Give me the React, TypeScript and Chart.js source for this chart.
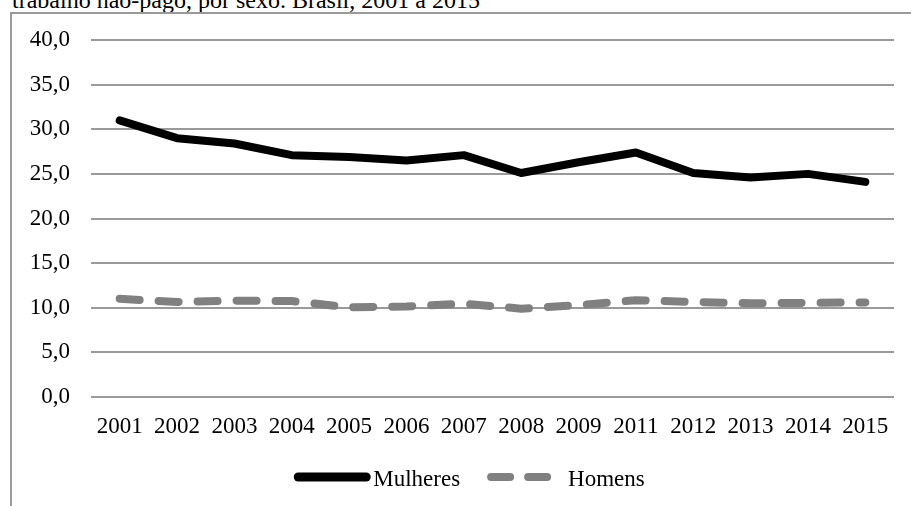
import React, { useEffect, useRef } from "react";
import { Chart, registerables } from "chart.js";

Chart.register(...registerables);

const titleText = "trabalho não-pago, por sexo. Brasil, 2001 a 2015";
const categories = ["2001", "2002", "2003", "2004", "2005", "2006", "2007", "2008", "2009", "2011", "2012", "2013", "2014", "2015"];
const mulheres = [31.0, 29.0, 28.4, 27.1, 26.9, 26.5, 27.1, 25.1, 26.3, 27.4, 25.1, 24.6, 25.0, 24.1];
const homens = [11.0, 10.65, 10.8, 10.75, 10.05, 10.15, 10.45, 9.9, 10.3, 10.85, 10.65, 10.5, 10.55, 10.6];
const seriesNames = ["Mulheres", "Homens"];
const yMin = 0;
const yMax = 40;
const yStep = 5;

const FONT = '"Times New Roman", "Liberation Serif", serif';

const legendPlugin = {
  id: "customLegend",
  afterDraw(chart: any) {
    const ctx = chart.ctx as CanvasRenderingContext2D;
    const datasets = chart.data.datasets;
    const sampleW = [76, 66];
    const textGap = [3, 15];
    const itemGap = 27;
    ctx.save();
    ctx.font = `23px ${FONT}`;
    const widths = datasets.map((d: any) => ctx.measureText(d.label).width);
    let total = 0;
    datasets.forEach((_: any, i: number) => {
      total += sampleW[i] + textGap[i] + widths[i];
      if (i < datasets.length - 1) total += itemGap;
    });
    let x = (chart.width - total) / 2 + 14;
    const y = chart.height - 29;
    datasets.forEach((d: any, i: number) => {
      ctx.save();
      ctx.strokeStyle = d.borderColor;
      ctx.lineWidth = 9;
      ctx.lineCap = "round";
      if (d.borderDash && d.borderDash.length) {
        ctx.setLineDash([19, 18]);
        ctx.lineWidth = 8;
      }
      ctx.beginPath();
      ctx.moveTo(x + 4, y);
      ctx.lineTo(x + sampleW[i] - 4, y);
      ctx.stroke();
      ctx.restore();
      x += sampleW[i] + textGap[i];
      ctx.fillStyle = "#000";
      ctx.textBaseline = "alphabetic";
      ctx.textAlign = "left";
      ctx.fillText(d.label, x, y + 8.5);
      x += widths[i] + itemGap;
    });
    ctx.restore();
  },
};

export default function App() {
  const canvasRef = useRef<HTMLCanvasElement | null>(null);

  useEffect(() => {
    const canvas = canvasRef.current;
    if (!canvas) return;
    const chart = new Chart(canvas, {
      type: "line",
      data: {
        labels: categories,
        datasets: [
          {
            label: seriesNames[0],
            data: mulheres,
            borderColor: "#000000",
            backgroundColor: "#000000",
            borderWidth: 8,
            borderCapStyle: "round",
            borderJoinStyle: "round",
            pointRadius: 0,
            tension: 0,
            fill: false,
          },
          {
            label: seriesNames[1],
            data: homens,
            borderColor: "#808080",
            backgroundColor: "#808080",
            borderWidth: 8,
            borderDash: [20, 19],
            borderCapStyle: "round",
            borderJoinStyle: "round",
            pointRadius: 0,
            tension: 0,
            fill: false,
          },
        ],
      },
      options: {
        responsive: false,
        animation: false,
        devicePixelRatio: 1,
        layout: { padding: { top: 40, right: 17, bottom: 0, left: 0 } },
        plugins: {
          legend: { display: false },
          tooltip: { enabled: false },
          title: { display: false },
        },
        scales: {
          x: {
            type: "category",
            offset: true,
            grid: { display: false, drawTicks: false },
            border: { display: false },
            ticks: {
              color: "#000",
              font: { family: FONT, size: 23 },
              padding: 16,
              maxRotation: 0,
              autoSkip: false,
            },
            afterFit(scale: any) {
              scale.height = 109;
            },
          },
          y: {
            min: yMin,
            max: yMax,
            grid: { color: "#9a9a9a", lineWidth: 2, drawTicks: false },
            border: { display: false },
            ticks: {
              stepSize: yStep,
              color: "#000",
              font: { family: FONT, size: 23 },
              padding: 21,
              callback: (v: any) => Number(v).toFixed(1).replace(".", ","),
            },
            afterFit(scale: any) {
              scale.width = 91;
            },
          },
        },
      },
      plugins: [legendPlugin],
    });
    return () => chart.destroy();
  }, []);

  return (
    <div
      style={{
        position: "absolute",
        left: 0,
        top: 0,
        width: 911,
        height: 506,
        overflow: "hidden",
        background: "#fff",
      }}
    >
      <div
        style={{
          position: "absolute",
          left: 12,
          top: -11,
          fontFamily: FONT,
          fontSize: 24,
          lineHeight: "22px",
          whiteSpace: "nowrap",
          color: "#000",
        }}
      >
        {titleText}
      </div>
      <div
        style={{
          position: "absolute",
          left: 10,
          top: 12,
          width: 1000,
          height: 600,
          borderLeft: "2px solid #9a9a9a",
          borderTop: "2px solid #9a9a9a",
        }}
      />
      <canvas
        ref={canvasRef}
        width={911}
        height={506}
        style={{ position: "absolute", left: 0, top: 0, width: 911, height: 506 }}
      />
    </div>
  );
}
